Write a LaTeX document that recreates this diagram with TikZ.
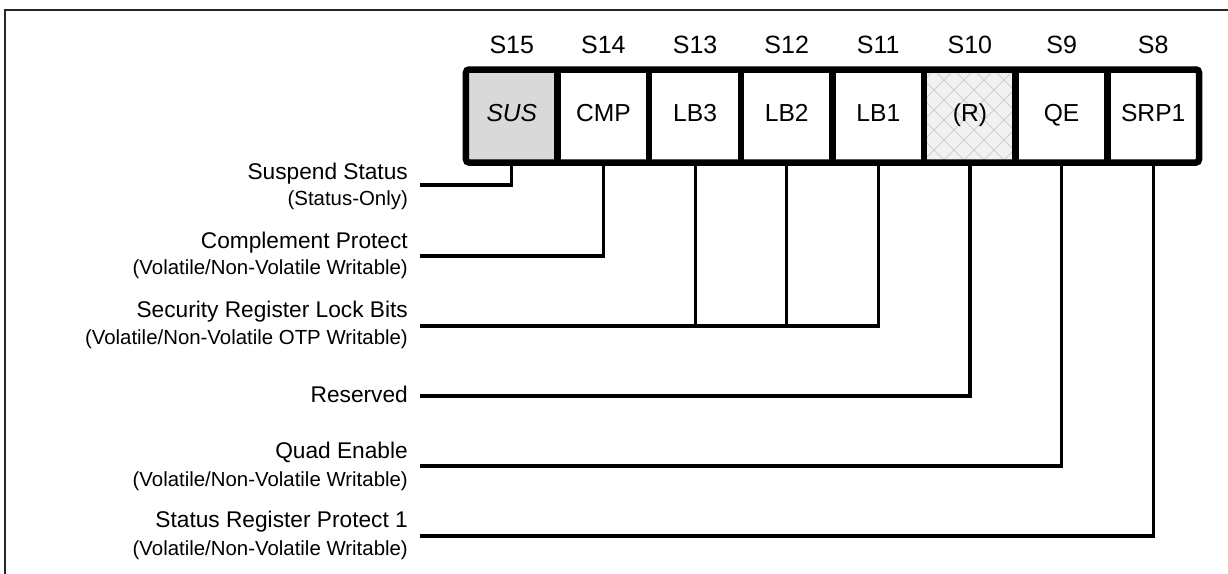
\documentclass[tikz,border=0pt]{standalone}
\usepackage{fontspec}
\setmainfont{Liberation Sans}
\definecolor{susgray}{HTML}{D9D9D9}
\definecolor{hatchbg}{HTML}{F1F1F1}
\definecolor{hatchln}{HTML}{CFCFCF}
\begin{document}
\begin{tikzpicture}[x=1pt,y=-1pt,
  cell/.style={minimum width=91.625pt, minimum height=93pt, inner sep=0pt, outer sep=0pt,
    text height=11.6pt, text depth=0pt, font=\fontsize{24.6}{28}\selectfont},
  hdr/.style={anchor=base, inner sep=0pt, font=\fontsize{25}{28}\selectfont},
  lbl/.style={anchor=base east, inner sep=0pt, font=\fontsize{22.7}{26}\selectfont},
  sublbl/.style={anchor=base east, inner sep=0pt, font=\fontsize{20.4}{24}\selectfont},
  wire/.style={line width=3.2pt},
  regline/.style={line width=6.5pt},
  framel/.style={line width=2pt, draw=black!85}]

\useasboundingbox (0,0) rectangle (1228,573);
\draw[framel] (4.5,580) -- (4.5,9.5) -- (1235,9.5);

% cells
\node[cell, fill=susgray] (c15) at (511.8,116) {\itshape SUS};
\node[cell] (c14) at (603.4,116) {CMP};
\node[cell] (c13) at (695.1,116) {LB3};
\node[cell] (c12) at (786.7,116) {LB2};
\node[cell] (c11) at (878.3,116) {LB1};
\node[cell, fill=hatchbg] (c10) at (969.9,116) {};
\begin{scope}
  \clip (c10.north west) rectangle (c10.south east);
  \foreach \k in {-6,...,11} {
    \draw[hatchln, line width=1pt] (924+\k*20,60) -- ++(110,110);
    \draw[hatchln, line width=1pt] (924+\k*20,60) -- ++(-110,110);
  }
\end{scope}
\node[cell] at (c10.center) {(R)};
\node[cell] (c9) at (1061.6,116) {QE};
\node[cell] (c8) at (1153.2,116) {SRP1};

% register outline and dividers
\draw[regline, rounded corners=3pt] (c15.north west) rectangle (c8.south east);
\foreach \a in {c15,c14,c13,c12,c11,c10,c9} {
  \draw[regline] (\a.north east) -- (\a.south east);
}

% bit headers
\node[hdr] at (511.8,53.3) {S15};
\node[hdr] at (603.4,53.3) {S14};
\node[hdr] at (695.1,53.3) {S13};
\node[hdr] at (786.7,53.3) {S12};
\node[hdr] at (878.3,53.3) {S11};
\node[hdr] at (969.9,53.3) {S10};
\node[hdr] at (1061.6,53.3) {S9};
\node[hdr] at (1153.2,53.3) {S8};

% labels
\node[lbl] (l15) at (408,179.3) {Suspend Status};
\node[sublbl] (s15) at (408,205) {(Status-Only)};
\node[lbl] (l14) at (408,248.3) {Complement Protect};
\node[sublbl] (s14) at (408,274) {(Volatile/Non-Volatile Writable)};
\node[lbl] (llb) at (408,317.7) {Security Register Lock Bits};
\node[sublbl] (slb) at (408,344) {(Volatile/Non-Volatile OTP Writable)};
\node[lbl] (l10) at (408,402.3) {Reserved};
\node[lbl] (l9) at (408,458.3) {Quad Enable};
\node[sublbl] (s9) at (408,486.7) {(Volatile/Non-Volatile Writable)};
\node[lbl] (l8) at (408,527.7) {Status Register Protect 1};
\node[sublbl] (s8) at (408,555) {(Volatile/Non-Volatile Writable)};

% connector start points
\coordinate (w15) at (420,185);
\coordinate (w14) at (420,256);
\coordinate (wlb) at (420,326);
\coordinate (w10) at (420,396);
\coordinate (w9) at (420,466);
\coordinate (w8) at (420,536);

\draw[wire] (w15) -| (c15.south);
\draw[wire] (w14) -| (c14.south);
\draw[wire] (wlb) -| (c11.south);
\draw[wire] (c13.south) -- (c13.south |- wlb);
\draw[wire] (c12.south) -- (c12.south |- wlb);
\draw[wire] (w10) -| (c10.south);
\draw[wire] (w9) -| (c9.south);
\draw[wire] (w8) -| (c8.south);
\end{tikzpicture}
\end{document}
